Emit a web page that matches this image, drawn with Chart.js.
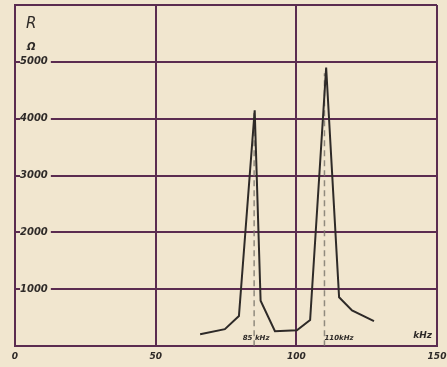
<!DOCTYPE html>
<html>
<head>
<meta charset="utf-8">
<script src="https://cdn.jsdelivr.net/npm/chart.js@4"></script>
<style>
  html, body { margin: 0; padding: 0; background: #f1e6cf; }
  #wrap { width: 447px; height: 367px; }
</style>
</head>
<body>
<div id="wrap"><canvas id="chart"></canvas></div>
<script>
// Resonance curve: R (ohm) against frequency (kHz)
const freqKHz = [65.8, 74.6, 79.6, 85.2, 87.3, 92.4, 100.2, 104.9, 110.6, 115.2, 119.8, 127.6];
const resistance = [210, 300, 530, 4150, 800, 265, 280, 460, 4900, 860, 630, 440];

// marker lines at the two resonance frequencies
const markerFreqs = [85, 110];
const markerTops = [4100, 4800];
const markerLabels = ['85 kHz', '110kHz'];

const xTicks = [0, 50, 100, 150];
const yTicks = [1000, 2000, 3000, 4000, 5000];

const bg = '#f1e6cf';
const gridColor = '#5b2c50';
const inkColor = '#2e2a28';

const curve = freqKHz.map((f, i) => ({ x: f, y: resistance[i] }));

const markerSets = markerFreqs.map((f, i) => ({
  data: [{ x: f, y: 0 }, { x: f, y: markerTops[i] }],
  borderColor: 'rgba(120, 115, 105, 0.8)',
  borderWidth: 1.5,
  borderDash: [6, 4],
  pointRadius: 0,
  order: 2
}));

// text annotations (R, ohm sign, frequency notes)
const notesPlugin = {
  id: 'notes',
  afterDatasetsDraw(chart) {
    const ctx = chart.ctx;
    const xs = chart.scales.x;
    const ys = chart.scales.y;
    ctx.save();
    ctx.fillStyle = inkColor;
    ctx.textBaseline = 'middle';
    ctx.font = 'italic 15px "DejaVu Sans"';
    ctx.textAlign = 'left';
    ctx.fillText('R', 26, 24);
    ctx.font = 'italic bold 10px "DejaVu Sans"';
    ctx.fillText('Ω', 27, 47);

    ctx.font = 'italic bold 7px "DejaVu Sans"';
    ctx.textAlign = 'center';
    ctx.fillText(markerLabels[0], xs.getPixelForValue(markerFreqs[0]) + 2, ys.getPixelForValue(0) - 8);
    ctx.textAlign = 'left';
    ctx.fillText(markerLabels[1], xs.getPixelForValue(markerFreqs[1]), ys.getPixelForValue(0) - 8);

    ctx.font = 'italic bold 9px "DejaVu Sans"';
    ctx.textAlign = 'right';
    ctx.fillText('kHz', xs.right - 5, ys.getPixelForValue(0) - 11);
    ctx.restore();
  }
};

new Chart(document.getElementById('chart'), {
  type: 'line',
  data: {
    datasets: [{
      data: curve,
      borderColor: inkColor,
      borderWidth: 2,
      pointRadius: 0,
      tension: 0,
      order: 1
    }, ...markerSets]
  },
  options: {
    responsive: true,
    maintainAspectRatio: false,
    animation: false,
    layout: { padding: { left: 0, right: 10, top: 5, bottom: 0 } },
    plugins: { legend: { display: false }, tooltip: { enabled: false } },
    scales: {
      x: {
        type: 'linear',
        min: 0,
        max: 150,
        afterBuildTicks: axis => { axis.ticks = xTicks.map(v => ({ value: v })); },
        afterFit: axis => { axis.paddingLeft = 0; axis.paddingRight = 0; },
        grid: { color: gridColor, lineWidth: 2, drawTicks: false },
        border: { color: gridColor, width: 2 },
        ticks: {
          color: inkColor,
          padding: 5,
          font: { family: '"DejaVu Sans"', size: 9, style: 'italic', weight: 'bold' }
        }
      },
      y: {
        min: 0,
        max: 6000,
        afterBuildTicks: axis => {
          axis.ticks = [0, ...yTicks, 6000].map(v => ({ value: v }));
        },
        afterFit: axis => { axis.width = 15; axis.paddingTop = 0; axis.paddingBottom = 0; },
        grid: { color: gridColor, lineWidth: 2, drawTicks: false },
        border: { color: gridColor, width: 2 },
        ticks: {
          mirror: true,
          padding: 5,
          color: inkColor,
          showLabelBackdrop: true,
          backdropColor: c => (yTicks.includes(c.tick.value) ? bg : 'rgba(0,0,0,0)'),
          backdropPadding: { left: 0, right: 3, top: 0, bottom: 0 },
          font: { family: '"DejaVu Sans"', size: 10, style: 'italic', weight: 'bold' },
          callback: v => (yTicks.includes(v) ? String(v) : '')
        }
      }
    }
  },
  plugins: [notesPlugin]
});
</script>
</body>
</html>
